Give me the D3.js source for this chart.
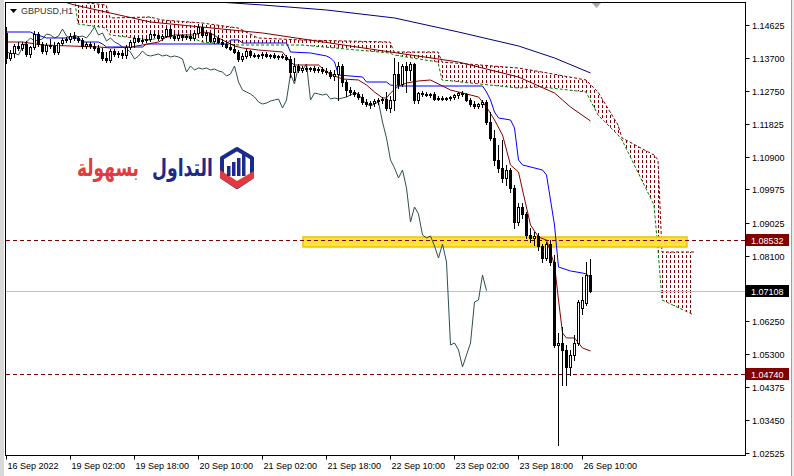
<!DOCTYPE html>
<html><head><meta charset="utf-8">
<script src="https://cdn.jsdelivr.net/npm/d3@7"></script>
<style>html,body{margin:0;padding:0;background:#fff;overflow:hidden}svg{display:block}</style>
</head><body>
<svg id="c" width="794" height="476"></svg>
<script>
// ---------------- DATA ----------------
const symbol = "GBPUSD,H1";
const opens = [1.14398,1.13691,1.13832,1.14030,1.13974,1.14087,1.13804,1.14002,1.14370,1.14087,
1.13889,1.14058,1.14030,1.13860,1.14115,1.14200,1.14228,1.14313,1.14257,1.14200,
1.14030,1.14087,1.14030,1.13974,1.13860,1.13691,1.13634,1.13889,1.13804,1.13832,
1.13775,1.14002,1.14143,1.14257,1.14172,1.14200,1.14228,1.14370,1.14342,1.14257,
1.14313,1.14511,1.14313,1.14257,1.14342,1.14285,1.14313,1.14257,1.14398,1.14568,
1.14342,1.14398,1.14172,1.14257,1.14143,1.14087,1.14002,1.13945,1.13860,1.13662,
1.13747,1.13889,1.13775,1.13747,1.13775,1.13804,1.13747,1.13775,1.13719,1.13747,
1.13719,1.13662,1.13294,1.13464,1.13351,1.13408,1.13379,1.13408,1.13351,1.13379,
1.13323,1.13294,1.13181,1.13238,1.13464,1.13011,1.12785,1.12728,1.12672,1.12587,
1.12445,1.12389,1.12417,1.12474,1.12502,1.12530,1.12276,1.12502,1.13238,1.12955,
1.13464,1.13351,1.13521,1.12502,1.12700,1.12672,1.12643,1.12672,1.12530,1.12559,
1.12530,1.12559,1.12587,1.12643,1.12700,1.12672,1.12502,1.12389,1.12332,1.12389,
1.12445,1.11879,1.11427,1.10804,1.10578,1.10295,1.10521,1.10012,1.09049,1.09474,
1.09276,1.08682,1.08597,1.08653,1.08370,1.08031,1.08427,1.07917,1.05569,1.05625,
1.05427,1.04946,1.05286,1.05625,1.06616,1.06757,1.07550];
const highs = [1.14568,1.13917,1.14087,1.14143,1.14143,1.14172,1.14030,1.14455,1.14426,1.14143,
1.14115,1.14228,1.14143,1.14143,1.14257,1.14285,1.14398,1.14426,1.14313,1.14257,
1.14143,1.14143,1.14115,1.14058,1.13974,1.13860,1.13945,1.13945,1.13889,1.13917,
1.14058,1.14200,1.14313,1.14313,1.14257,1.14257,1.14426,1.14455,1.14398,1.14370,
1.14568,1.14625,1.14398,1.14398,1.14370,1.14370,1.14398,1.14455,1.14653,1.14653,
1.14455,1.14426,1.14511,1.14342,1.14228,1.14172,1.14115,1.14087,1.13917,1.13832,
1.13945,1.13917,1.13832,1.13804,1.13860,1.13860,1.13804,1.13832,1.13775,1.13804,
1.13775,1.13747,1.13691,1.13521,1.13464,1.13464,1.13436,1.13464,1.13436,1.13436,
1.13408,1.13351,1.13351,1.13577,1.13521,1.13068,1.12870,1.12785,1.12728,1.12672,
1.12530,1.12474,1.12530,1.12559,1.12587,1.12728,1.12615,1.13691,1.13577,1.13521,
1.13577,1.13577,1.13549,1.12728,1.12757,1.12728,1.12700,1.12728,1.12615,1.12615,
1.12587,1.12615,1.12672,1.12728,1.12757,1.12700,1.12559,1.12474,1.12417,1.12502,
1.12502,1.12162,1.11653,1.11229,1.11370,1.10663,1.10578,1.10097,1.09587,1.09587,
1.09332,1.08880,1.08766,1.08738,1.08427,1.08483,1.08540,1.08116,1.05908,1.06078,
1.05569,1.05427,1.05852,1.06842,1.07493,1.07917,1.08002];
const lows = [1.13549,1.13634,1.13719,1.13917,1.13917,1.13747,1.13719,1.13945,1.14030,1.13832,
1.13804,1.13974,1.13804,1.13804,1.14058,1.14143,1.14143,1.14200,1.14143,1.13974,
1.13974,1.13974,1.13917,1.13832,1.13634,1.13577,1.13577,1.13747,1.13719,1.13691,
1.13691,1.13945,1.14002,1.14143,1.14115,1.14143,1.14172,1.14285,1.14200,1.14200,
1.14285,1.14257,1.14200,1.14200,1.14200,1.14228,1.14200,1.14200,1.14370,1.14313,
1.14200,1.14143,1.14115,1.14115,1.14030,1.13974,1.13917,1.13832,1.13606,1.13606,
1.13691,1.13719,1.13719,1.13691,1.13691,1.13719,1.13691,1.13691,1.13662,1.13691,
1.13634,1.13153,1.13068,1.13294,1.13294,1.13323,1.13323,1.13294,1.13294,1.13266,
1.13238,1.13125,1.13068,1.12502,1.12898,1.12615,1.12643,1.12615,1.12530,1.12389,
1.12332,1.12276,1.12332,1.12389,1.12417,1.12219,1.12162,1.12219,1.12842,1.12898,
1.12728,1.13068,1.12417,1.12417,1.12615,1.12615,1.12587,1.12502,1.12502,1.12502,
1.12502,1.12502,1.12530,1.12559,1.12615,1.12474,1.12332,1.12276,1.12276,1.12304,
1.11823,1.11370,1.10663,1.10465,1.10181,1.10097,1.09898,1.08880,1.08965,1.09163,
1.08597,1.08483,1.08399,1.08257,1.07917,1.07974,1.07833,1.05512,1.02739,1.04437,
1.04437,1.04720,1.05144,1.05569,1.06446,1.06701,1.07068];
const closes = [1.13691,1.13832,1.14030,1.13974,1.14087,1.13804,1.14002,1.14370,1.14087,1.13889,
1.14058,1.14030,1.13860,1.14115,1.14200,1.14228,1.14313,1.14257,1.14200,1.14030,
1.14087,1.14030,1.13974,1.13860,1.13691,1.13634,1.13889,1.13804,1.13832,1.13775,
1.14002,1.14143,1.14257,1.14172,1.14200,1.14228,1.14370,1.14342,1.14257,1.14313,
1.14511,1.14313,1.14257,1.14342,1.14285,1.14313,1.14257,1.14398,1.14568,1.14342,
1.14398,1.14172,1.14257,1.14143,1.14087,1.14002,1.13945,1.13860,1.13662,1.13747,
1.13889,1.13775,1.13747,1.13775,1.13804,1.13747,1.13775,1.13719,1.13747,1.13719,
1.13662,1.13294,1.13464,1.13351,1.13408,1.13379,1.13408,1.13351,1.13379,1.13323,
1.13294,1.13181,1.13238,1.13464,1.13011,1.12785,1.12728,1.12672,1.12587,1.12445,
1.12389,1.12417,1.12474,1.12502,1.12530,1.12276,1.12502,1.13238,1.12955,1.13464,
1.13351,1.13521,1.12502,1.12700,1.12672,1.12643,1.12672,1.12530,1.12559,1.12530,
1.12559,1.12587,1.12643,1.12700,1.12672,1.12502,1.12389,1.12332,1.12389,1.12445,
1.11879,1.11427,1.10804,1.10578,1.10295,1.10521,1.10012,1.09049,1.09474,1.09276,
1.08682,1.08597,1.08653,1.08370,1.08031,1.08427,1.07917,1.05569,1.05625,1.05427,
1.04946,1.05286,1.05625,1.06785,1.06842,1.07550,1.07108];

const chikouShift = 26;     // Chikou span = close plotted 26 bars back
// Kijun-sen (blue)
const kijunIdx = [0,6,7,10,18,19,23,24,25,30,34,35,55,56,58,59,70,71,76,80,81,82,83,89,90,95,96,98,119,120,121,122,123,126,127,128,129,134,135,136,137,138,141,144,145,146];
const kijunVal = [1.14426,1.14426,1.14370,1.14257,1.14257,1.14143,1.14143,1.14087,1.14002,1.14002,1.14002,1.14087,1.14087,1.14200,1.14200,1.14115,1.14115,1.13860,1.13832,1.13747,1.13691,1.13577,1.13209,1.13153,1.13011,1.13011,1.12926,1.12898,1.12898,1.12728,1.12502,1.12162,1.11993,1.11936,1.11710,1.10804,1.10663,1.10521,1.10380,1.09672,1.08965,1.07776,1.07663,1.07606,1.07578,1.07465];
// Tenkan-sen (maroon)
const tenkanIdx = [0,4,9,23,26,31,34,38,40,42,47,49,51,53,55,57,59,63,69,71,72,78,80,82,84,88,90,92,94,95,96,98,100,103,106,108,111,114,118,120,122,124,126,128,129,131,133,135,137,138,139,140,142,143,144,146];
const tenkanVal = [1.14143,1.14143,1.14058,1.14002,1.13974,1.14002,1.14058,1.14143,1.14285,1.14342,1.14342,1.14426,1.14398,1.14257,1.14143,1.14030,1.13974,1.13917,1.13860,1.13577,1.13492,1.13492,1.13294,1.13181,1.13096,1.13068,1.12926,1.12728,1.12559,1.12559,1.12700,1.12898,1.12983,1.13040,1.13068,1.12955,1.12785,1.12700,1.12587,1.12304,1.11936,1.11512,1.10663,1.10465,1.09955,1.08965,1.08623,1.08540,1.07833,1.06842,1.05908,1.05767,1.05767,1.05625,1.05484,1.05399];
// Senkou spans (cloud, shifted 26 bars forward)
const cloudIdx = [0,17,18,25,26,36,39,46,49,58,63,74,96,97,108,109,128,134,145,148,153,154,162,163,164,172];
const senkouA = [1.16464,1.15474,1.14653,1.14540,1.14342,1.14200,1.14285,1.14285,1.14143,1.14058,1.14058,1.14058,1.13832,1.13775,1.13577,1.13068,1.12842,1.12870,1.12728,1.12078,1.11511,1.11370,1.09531,1.08257,1.06842,1.06418];
const senkouB = [1.17030,1.15898,1.15275,1.15191,1.14823,1.14851,1.14766,1.14709,1.14681,1.14540,1.14257,1.14200,1.14143,1.13860,1.13860,1.13577,1.13408,1.13294,1.13068,1.12728,1.11794,1.11427,1.10946,1.10804,1.08200,1.08200];
// Moving averages
const maNavyIdx = [20,49,64,80,97,113,128,137,146];
const maNavyVal = [1.15898,1.15304,1.15191,1.15049,1.14823,1.14426,1.14030,1.13691,1.13266];
const maRedIdx = [0,17,36,64,96,113,128,137,141,146];
const maRedVal = [1.15757,1.15191,1.14709,1.14398,1.13860,1.13577,1.13153,1.12700,1.12304,1.11908];
// Horizontal levels
const bidPrice = 1.07108;
const levelPrices = [1.08532, 1.04740];
const zoneLow = 1.08342, zoneHigh = 1.08625, zoneStart = 74.25, zoneEnd = 170.25;
// Axis labels
const priceTicks = [1.14625,1.13700,1.12750,1.11825,1.10900,1.09975,1.09025,1.08100,1.06250,1.05300,1.04375,1.03450,1.02525];
const timeIdx = [0,16,32,48,64,80,96,112,128,144];
const timeLabels = ["16 Sep 2022","19 Sep 02:00","19 Sep 18:00","20 Sep 10:00","21 Sep 02:00","21 Sep 18:00","22 Sep 10:00","23 Sep 02:00","23 Sep 18:00","26 Sep 10:00"];
const logoBlue = "التداول", logoRed = "بسهولة";

// ---------------- CHART ----------------
const svg = d3.select("#c");
const L = 5.5, R = 745.5, T = 2.5, B = 455.5;
const x = d3.scaleLinear().domain([0, 184.75]).range([6, 745]);
const y = d3.scaleLinear().domain([1.024555, 1.15261]).range([455, 2.5]);
const MAROON = "#800000";

const defs = svg.append("defs");
defs.append("clipPath").attr("id","plot").append("rect").attr("x",6).attr("y",3).attr("width",739).attr("height",452);
const pat = defs.append("pattern").attr("id","hatch").attr("patternUnits","userSpaceOnUse")
  .attr("x",0).attr("y",0).attr("width",4).attr("height",5);
pat.append("rect").attr("x",2).attr("y",0).attr("width",1).attr("height",3).attr("fill",MAROON);

// window edges
svg.append("rect").attr("x",0).attr("y",0).attr("width",4).attr("height",476).attr("fill","#d8d8d8");
svg.append("line").attr("x1",791.5).attr("x2",791.5).attr("y1",0).attr("y2",476).attr("stroke","#a0a0a0");
svg.append("rect").attr("x",792).attr("y",0).attr("width",2).attr("height",476).attr("fill","#ececec");

const g = svg.append("g").attr("clip-path","url(#plot)");

// cloud
const cloudData = cloudIdx.map((d,k)=>({i:d,a:senkouA[k],b:senkouB[k]}));
g.append("path").datum(cloudData)
  .attr("d", d3.area().x(d=>x(d.i)).y0(d=>y(d.a)).y1(d=>y(d.b)))
  .attr("fill","url(#hatch)");
g.append("path").datum(cloudData)
  .attr("d", d3.line().x(d=>x(d.i)).y(d=>y(d.b)))
  .attr("fill","none").attr("stroke",MAROON).attr("stroke-width",1).attr("stroke-dasharray","3,2");
g.append("path").datum(cloudData)
  .attr("d", d3.line().x(d=>x(d.i)).y(d=>y(d.a)))
  .attr("fill","none").attr("stroke","#008000").attr("stroke-width",1).attr("stroke-dasharray","3,2");

// moving averages
const lineXY = (idx,val)=>d3.line()(idx.map((d,k)=>[x(d)+0.5, y(val[k])]));
g.append("path").attr("d", lineXY(maNavyIdx, maNavyVal)).attr("fill","none").attr("stroke","#000080").attr("stroke-width",1);
g.append("path").attr("d", lineXY(maRedIdx, maRedVal)).attr("fill","none").attr("stroke",MAROON).attr("stroke-width",1);

// zone rectangle
g.append("rect").attr("x", x(zoneStart)).attr("y", y(zoneHigh)).attr("width", x(zoneEnd)-x(zoneStart))
  .attr("height", y(zoneLow)-y(zoneHigh)).attr("fill","#ffe23a").attr("stroke","#f2c200").attr("stroke-width",1.5);

// horizontal lines
g.append("line").attr("x1",6).attr("x2",745).attr("y1",Math.round(y(bidPrice))+0.5).attr("y2",Math.round(y(bidPrice))+0.5).attr("stroke","#c0c0c0");
levelPrices.forEach(p=>{
  g.append("line").attr("x1",6).attr("x2",745).attr("y1",Math.round(y(p))+0.5).attr("y2",Math.round(y(p))+0.5)
   .attr("stroke",MAROON).attr("stroke-dasharray","4,3");
});

// chikou
const chikou = d3.range(0, closes.length - chikouShift).map(i=>[x(i)+0.5, y(closes[i+chikouShift])]);
g.append("path").attr("d", d3.line()(chikou)).attr("fill","none").attr("stroke","#2f4f4f").attr("stroke-width",1);
// kijun / tenkan
g.append("path").attr("d", lineXY(kijunIdx,kijunVal)).attr("fill","none").attr("stroke","#0000ff").attr("stroke-width",1);
g.append("path").attr("d", lineXY(tenkanIdx,tenkanVal)).attr("fill","none").attr("stroke","#8b0000").attr("stroke-width",1);

// candles
const cg = g.append("g");
closes.forEach((c,i)=>{
  const o = opens[i], X = Math.round(x(i));
  cg.append("line").attr("x1",X+0.5).attr("x2",X+0.5).attr("y1",Math.round(y(highs[i]))).attr("y2",Math.round(y(lows[i]))+1)
    .attr("stroke","#000");
  const yt = Math.round(y(Math.max(o,c))), yb = Math.round(y(Math.min(o,c)));
  if (yb - yt < 1) {
    cg.append("rect").attr("x",X-1).attr("y",yt).attr("width",3).attr("height",1).attr("fill","#000");
  } else if (c > o) {
    cg.append("rect").attr("x",X-0.5).attr("y",yt+0.5).attr("width",2).attr("height",yb-yt)
      .attr("fill","#fff").attr("stroke","#000");
  } else {
    cg.append("rect").attr("x",X-1).attr("y",yt).attr("width",3).attr("height",yb-yt+1).attr("fill","#000");
  }
});

// frame
svg.append("rect").attr("x",L).attr("y",T).attr("width",R-L).attr("height",B-T).attr("fill","none").attr("stroke","#000");

// price axis
const FONT = "'Liberation Sans', Arial, sans-serif";
priceTicks.forEach(p=>{
  const yy = Math.round(y(p))+0.5;
  svg.append("line").attr("x1",R).attr("x2",R+4).attr("y1",yy).attr("y2",yy).attr("stroke","#000");
  svg.append("text").attr("x",752).attr("y",yy+3.5).text(p.toFixed(5))
    .attr("font-family",FONT).attr("font-size",9).attr("fill","#000");
});
const tagBox = (p, fill)=>{
  const yy = Math.round(y(p));
  svg.append("rect").attr("x",746).attr("y",yy-6).attr("width",43).attr("height",12).attr("fill",fill);
  svg.append("text").attr("x",751).attr("y",yy+3.5).text(p.toFixed(5))
    .attr("font-family",FONT).attr("font-size",9).attr("fill","#fff");
};
levelPrices.forEach(p=>tagBox(p, MAROON));
tagBox(bidPrice, "#000");

// time axis
timeIdx.forEach((d,k)=>{
  const xx = Math.round(x(d))+0.5;
  svg.append("line").attr("x1",xx).attr("x2",xx).attr("y1",B).attr("y2",B+4).attr("stroke","#000");
  svg.append("text").attr("x",xx+1).attr("y",469).text(timeLabels[k])
    .attr("font-family",FONT).attr("font-size",9).attr("fill","#000");
});

// title
svg.append("path").attr("d","M10,9 L17,9 L13.5,13 Z").attr("fill","#000");
svg.append("text").attr("x",21).attr("y",14).text(symbol).attr("font-family",FONT).attr("font-size",9).attr("fill","#333");
// chart shift marker
svg.append("path").attr("d","M592,3 L601,3 L596.5,8 Z").attr("fill","#a8a8a8");

// logo: fit each word into its box by horizontal scaling
const lg = svg.append("g");
function logoWord(txt, x0, w, color){
  const t = lg.append("text").attr("x",0).attr("y",0).text(txt)
    .attr("font-family","'DejaVu Sans', sans-serif").attr("font-weight","bold").attr("font-size",24)
    .attr("fill",color);
  const nat = t.node().getComputedTextLength() || w;
  t.attr("transform", `translate(${x0},176) scale(${w/nat},1)`);
}
logoWord(logoRed, 77, 62, "#e23b3f");
logoWord(logoBlue, 152, 61, "#1c2a8c");
lg.append("path").attr("d","M237,149 L252,158 L252,177 L237,187 L222,177 L222,158 Z")
  .attr("fill","#fff").attr("stroke","#1c2a8c").attr("stroke-width",4).attr("stroke-linejoin","round");
lg.append("path").attr("d","M220,170 L237,181 L254,171 L254,178 L237,189 L220,178 Z").attr("fill","#e23b3f");
[[227,166],[232,162],[237,158],[242,154]].forEach(([bx,by])=>{
  lg.append("rect").attr("x",bx).attr("y",by).attr("width",3.5).attr("height",176-by).attr("fill","#1c2a8c");
});
</script>
</body></html>
